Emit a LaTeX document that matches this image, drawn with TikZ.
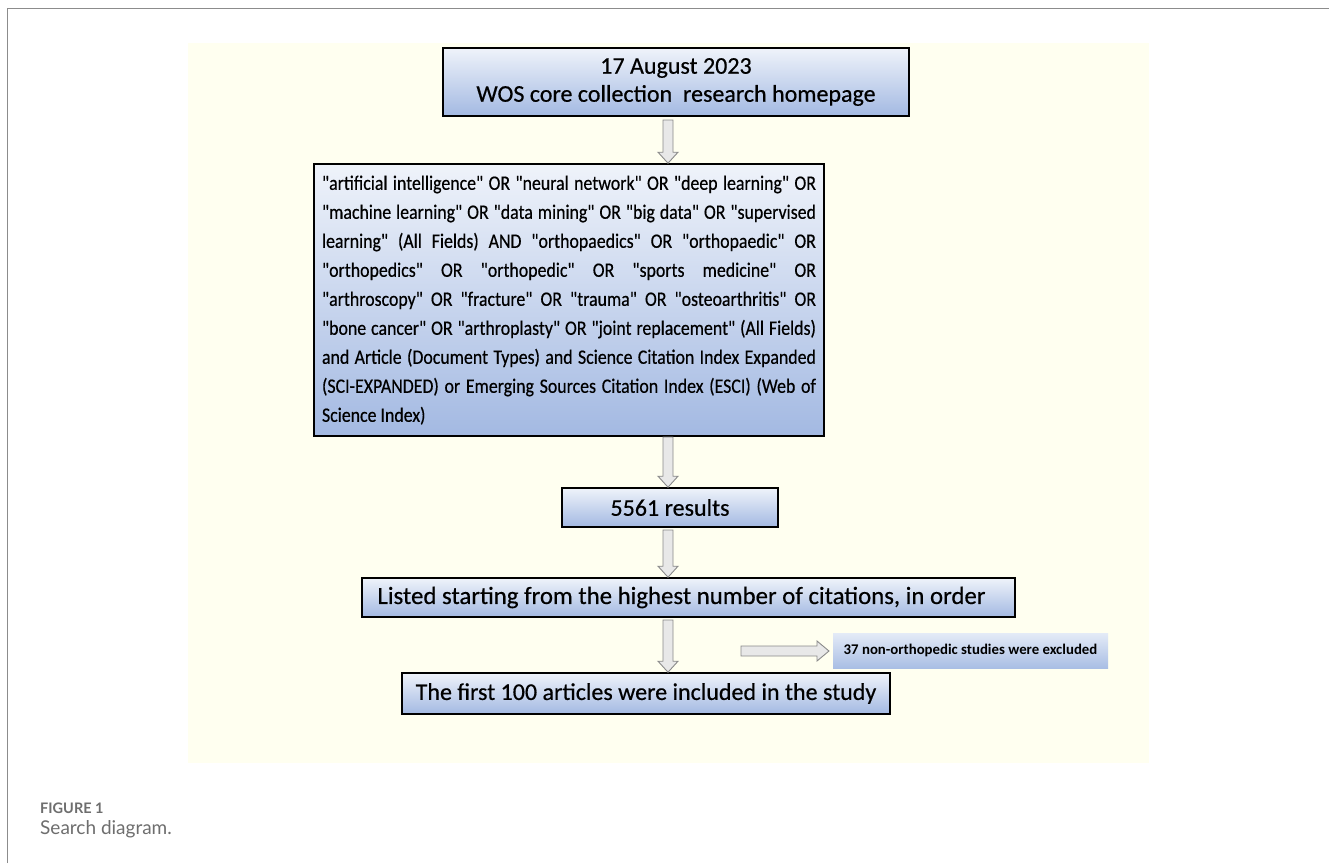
\documentclass[tikz,border=0pt]{standalone}
\usepackage{fontspec}
\usepackage{graphicx}
\setmainfont{Carlito}
\newfontfamily\boxfont{Carlito}[FakeBold=0.5]
\newfontfamily\exfont{Carlito}
\newfontfamily\capfont{Lato}
\usetikzlibrary{calc}
\definecolor{framegray}{HTML}{8C8C8C}
\definecolor{paper}{HTML}{FFFFF0}
\definecolor{boxtop}{HTML}{EFF3FA}
\definecolor{boxbot}{HTML}{A3B9E2}
\definecolor{exbtop}{HTML}{E4EBF7}
\definecolor{exbbot}{HTML}{A9BEE4}
\definecolor{arrline}{HTML}{8A8A8A}
\definecolor{arrfill}{HTML}{E8E8E8}
\definecolor{captext}{HTML}{6E6E6E}
\tikzset{
  flowbox/.style={draw=black, line width=1.6pt, top color=boxtop, bottom color=boxbot,
    inner sep=0pt, align=center, font=\boxfont\fontsize{24}{28}\selectfont},
  exbox/.style={top color=exbtop, bottom color=exbbot, inner sep=0pt,
    font=\exfont\bfseries\fontsize{14.8}{17}\selectfont},
  blockarrow/.style={draw=arrline, fill=arrfill, line width=0.9pt, line join=miter},
}
\newcommand\downblock[2]{%
  \draw[blockarrow] ($(#1)+(-5,0)$) -- ($(#2)+(-5,-11)$) -- ($(#2)+(-10,-11)$) -- (#2)
    -- ($(#2)+(10,-11)$) -- ($(#2)+(5,-11)$) -- ($(#1)+(5,0)$) -- cycle;}
\newcommand\rightblock[2]{%
  \draw[blockarrow] ($(#1)+(0,-5)$) -- ($(#2)+(-12,-5)$) -- ($(#2)+(-12,-10)$) -- (#2)
    -- ($(#2)+(-12,10)$) -- ($(#2)+(-12,5)$) -- ($(#1)+(0,5)$) -- cycle;}
\newcommand\jl[1]{\makebox[567.8pt][s]{#1}}
\begin{document}
\begin{tikzpicture}[x=1pt,y=-1pt]
\useasboundingbox (0,0) rectangle (1329,863);
\fill[white] (0,0) rectangle (1329,863);
\draw[framegray, line width=1pt] (7,863) -- (7,8) -- (1329,8);
\fill[paper] (188,43) rectangle (1149,763);

\node[flowbox, minimum width=466pt, minimum height=68pt] (b1) at (676,82)
  {17 August 2023\\WOS core collection\ \ research homepage};

\node[flowbox, minimum width=510pt, minimum height=272pt] (b2) at (569,300)
  {\fontsize{20.5}{29}\selectfont\scalebox{0.87}[1]{\begin{tabular}{@{}l@{}}
  \jl{"artificial intelligence" OR "neural network" OR "deep learning" OR}\\
  \jl{"machine learning" OR "data mining" OR "big data" OR "supervised}\\
  \jl{learning" (All Fields) AND "orthopaedics" OR "orthopaedic" OR}\\
  \jl{"orthopedics" OR "orthopedic" OR "sports medicine" OR}\\
  \jl{"arthroscopy" OR "fracture" OR "trauma" OR "osteoarthritis" OR}\\
  \jl{"bone cancer" OR "arthroplasty" OR "joint replacement" (All Fields)}\\
  \jl{and Article (Document Types) and Science Citation Index Expanded}\\
  \jl{(SCI-EXPANDED) or Emerging Sources Citation Index (ESCI) (Web of}\\
  Science Index)
  \end{tabular}}};

\node[flowbox, minimum width=216pt, minimum height=39pt] (b3) at (670,507.5) {5561 results};
\node[flowbox, minimum width=653pt, minimum height=39pt, font=\boxfont\fontsize{24.8}{28}\selectfont] (b4) at (688.5,597.5)
  {Listed starting from the highest number of citations, in order\hspace*{14pt}};
\node[flowbox, minimum width=488pt, minimum height=41pt] (b5) at (646,693.5)
  {The first 100 articles were included in the study};
\node[exbox, minimum width=275pt, minimum height=35pt] (ex) at (970.5,650.5)
  {37 non-orthopedic studies were excluded};

\coordinate (ax) at (668,0);
\coordinate (a1s) at (668,120);
\coordinate (a2s) at (668,437);
\coordinate (a3s) at (668,530);
\coordinate (a4s) at (668,620);
\coordinate (a5s) at (741,651);
\coordinate (a5e) at (829,651);
\downblock{a1s}{b2.north -| ax}
\downblock{a2s}{b3.north -| ax}
\downblock{a3s}{b4.north -| ax}
\downblock{a4s}{b5.north -| ax}
\rightblock{a5s}{a5e}

\node[anchor=base west, inner sep=0pt, text=captext, font=\capfont\bfseries\fontsize{14.5}{16}\selectfont] (fig) at (40,813) {FIGURE 1};
\node[anchor=base west, inner sep=0pt, text=captext, font=\capfont\fontsize{19}{22}\selectfont] (cap) at (40,834) {Search diagram.};
\end{tikzpicture}
\end{document}
